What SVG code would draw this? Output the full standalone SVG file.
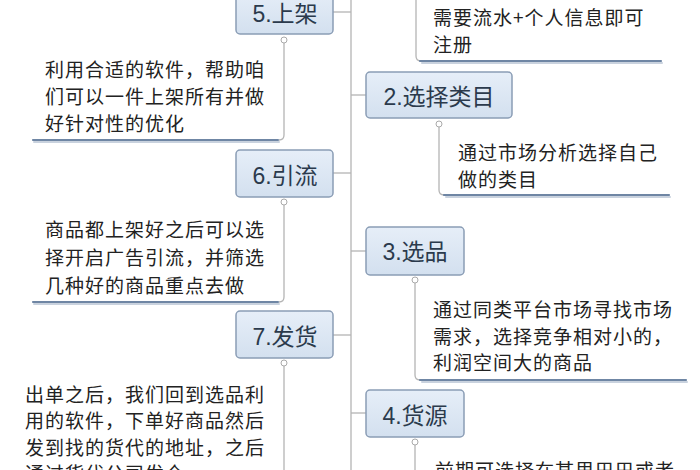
<svg xmlns="http://www.w3.org/2000/svg" width="700" height="470" viewBox="0 0 700 470">
<defs>
<linearGradient id="boxg" x1="0" y1="0" x2="0" y2="1">
<stop offset="0" stop-color="#e6eef8"/>
<stop offset="1" stop-color="#d3e0ef"/>
</linearGradient>
</defs>
<style>
.box{fill:url(#boxg);stroke:#8a9db5;stroke-width:1.5}
.bt{font-family:"Liberation Sans","Noto Sans CJK SC",sans-serif;font-size:23px;fill:#2b3a4c;text-anchor:middle}
.dt{font-family:"Noto Sans CJK SC",sans-serif;font-size:19px;letter-spacing:1px;fill:#222}
.ln{fill:none;stroke:#b4b4b4;stroke-width:1.3}
.ul{stroke:#6f86a4;stroke-width:2.2;stroke-linecap:round}
.us{stroke:#c9d2de;stroke-width:2;stroke-linecap:round}
.dot{fill:#fff;stroke:#aaa;stroke-width:1}
</style>
<rect width="700" height="470" fill="#ffffff"/>
<g id="connectors">
<line class="ln" x1="351" y1="0" x2="351" y2="470"/>
<path class="ln" d="M333 12 H351"/>
<path class="ln" d="M351 95 H366"/>
<path class="ln" d="M333 173 H351"/>
<path class="ln" d="M351 251 H366"/>
<path class="ln" d="M333 335 H351"/>
<path class="ln" d="M351 413 H366"/>
<path class="ln" d="M416 0 V56 Q416 61 421 61"/>
<path class="ln" d="M439 127 V190 Q439 195 444 195"/>
<path class="ln" d="M415 283 V375 Q415 380 420 380"/>
<path class="ln" d="M415 445 V470"/>
<path class="ln" d="M284 43 V135 Q284 140 279 140"/>
<path class="ln" d="M284 205 V297 Q284 302 279 302"/>
<path class="ln" d="M284 366 V470"/>
<circle class="dot" cx="284" cy="40" r="3"/>
<circle class="dot" cx="439" cy="124" r="3"/>
<circle class="dot" cx="284" cy="202" r="3"/>
<circle class="dot" cx="415" cy="280" r="3"/>
<circle class="dot" cx="284" cy="363" r="3"/>
<circle class="dot" cx="415" cy="442" r="3"/>
</g>
<g id="desc1">
<line class="us" x1="422" y1="63" x2="662" y2="63"/>
<line class="ul" x1="420" y1="61" x2="661" y2="61"/>
<text class="dt" x="433" y="25">需要流水+个人信息即可</text>
<text class="dt" x="433" y="52">注册</text>
</g>
<g id="node5">
<rect class="box" x="236" y="-10" width="97" height="44" rx="4"/>
<text class="bt" x="285" y="22">5.上架</text>
</g>
<g id="desc5">
<line class="us" x1="34" y1="142" x2="279" y2="142"/>
<line class="ul" x1="33" y1="140" x2="278" y2="140"/>
<text class="dt" x="45" y="77">利用合适的软件，帮助咱</text>
<text class="dt" x="45" y="104">们可以一件上架所有并做</text>
<text class="dt" x="45" y="131">好针对性的优化</text>
</g>
<g id="node2">
<rect class="box" x="366" y="72" width="146" height="46" rx="4"/>
<text class="bt" x="439" y="105">2.选择类目</text>
</g>
<g id="desc2">
<line class="us" x1="446" y1="197" x2="670" y2="197"/>
<line class="ul" x1="444" y1="195" x2="669" y2="195"/>
<text class="dt" x="458" y="160">通过市场分析选择自己</text>
<text class="dt" x="458" y="187">做的类目</text>
</g>
<g id="node6">
<rect class="box" x="236" y="150" width="97" height="47" rx="4"/>
<text class="bt" x="285" y="184">6.引流</text>
</g>
<g id="desc6">
<line class="us" x1="34" y1="304" x2="279" y2="304"/>
<line class="ul" x1="33" y1="302" x2="278" y2="302"/>
<text class="dt" x="45" y="237">商品都上架好之后可以选</text>
<text class="dt" x="45" y="265">择开启广告引流，并筛选</text>
<text class="dt" x="45" y="293">几种好的商品重点去做</text>
</g>
<g id="node3">
<rect class="box" x="366" y="227" width="98" height="48" rx="4"/>
<text class="bt" x="415" y="260">3.选品</text>
</g>
<g id="desc3">
<line class="us" x1="422" y1="382" x2="687" y2="382"/>
<line class="ul" x1="420" y1="380" x2="686" y2="380"/>
<text class="dt" x="433" y="317">通过同类平台市场寻找市场</text>
<text class="dt" x="433" y="344">需求，选择竞争相对小的，</text>
<text class="dt" x="433" y="370">利润空间大的商品</text>
</g>
<g id="node7">
<rect class="box" x="236" y="311" width="97" height="47" rx="4"/>
<text class="bt" x="285" y="345">7.发货</text>
</g>
<g id="desc7">
<text class="dt" x="25" y="402">出单之后，我们回到选品利</text>
<text class="dt" x="25" y="428">用的软件，下单好商品然后</text>
<text class="dt" x="25" y="455">发到找的货代的地址，之后</text>
<text class="dt" x="25" y="481">通过货代公司发仓</text>
</g>
<g id="node4">
<rect class="box" x="366" y="390" width="98" height="47" rx="4"/>
<text class="bt" x="415" y="424">4.货源</text>
</g>
<g id="desc4">
<text class="dt" x="435" y="478">前期可选择在某里巴巴或者</text>
</g>
</svg>
